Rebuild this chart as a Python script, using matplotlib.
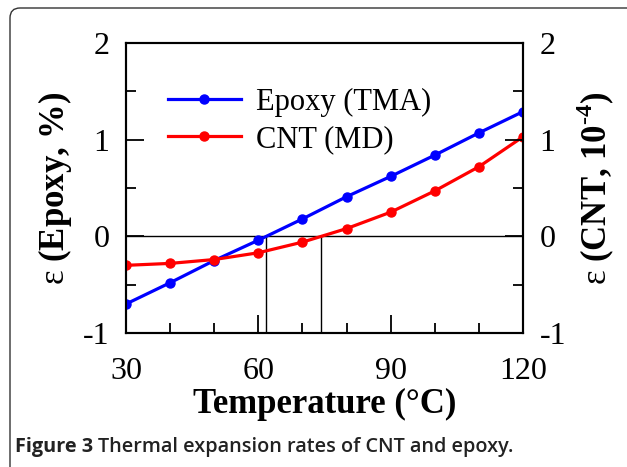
import matplotlib
matplotlib.use("Agg")
import matplotlib.pyplot as plt
from matplotlib.patches import FancyBboxPatch
from matplotlib.transforms import IdentityTransform
from matplotlib.ticker import MultipleLocator

# data
temps = [30, 40, 50, 60, 70, 80, 90, 100, 110, 120]
epoxy = [-0.70, -0.48, -0.25, -0.04, 0.18, 0.41, 0.62, 0.84, 1.07, 1.29]
cnt = [-0.30, -0.28, -0.24, -0.17, -0.06, 0.08, 0.25, 0.47, 0.72, 1.03]
zero_cross = [61.7, 74.2]   # where the curves cross zero

plt.rcParams['font.family'] = ['Liberation Serif', 'DejaVu Serif']
plt.rcParams['mathtext.fontset'] = 'custom'
plt.rcParams['mathtext.rm'] = 'Liberation Serif'
plt.rcParams['mathtext.bf'] = 'Liberation Serif:bold'
plt.rcParams['axes.unicode_minus'] = False

W, H = 627, 467
fig = plt.figure(figsize=(W / 100, H / 100), dpi=100)
ax = fig.add_axes([126 / W, 1 - 333 / H, 397 / W, 290 / H])

ax.plot(temps, epoxy, color='#0000ff', lw=2.3, marker='o', ms=6.5, label='Epoxy (TMA)', zorder=3)
ax.plot(temps, cnt, color='#ff0000', lw=2.3, marker='o', ms=6.5, label='CNT (MD)', zorder=3)

ax.axhline(0, color='black', lw=1.0, zorder=2)
for t in zero_cross:
    ax.plot([t, t], [-1, 0], color='black', lw=1.0, zorder=2)

ax.set_xlim(30, 120)
ax.set_ylim(-1, 2)
ax.xaxis.set_major_locator(MultipleLocator(30))
ax.xaxis.set_minor_locator(MultipleLocator(10))
ax.yaxis.set_major_locator(MultipleLocator(1))
ax.yaxis.set_minor_locator(MultipleLocator(0.5))

for s in ax.spines.values():
    s.set_linewidth(1.5)

ax.tick_params(which='both', direction='in', top=False, right=False, width=1.3)
ax.tick_params(which='major', length=13, labelsize=23, pad=12)
ax.tick_params(which='minor', length=7)
ax.tick_params(axis='x', which='major', pad=17)

ax2 = ax.twinx()
ax2.set_ylim(-1, 2)
ax2.yaxis.set_major_locator(MultipleLocator(1))
ax2.yaxis.set_minor_locator(MultipleLocator(0.5))
ax2.tick_params(which='both', direction='in', width=1.3)
ax2.tick_params(which='major', length=13, labelsize=23, pad=12)
ax2.tick_params(which='minor', length=7)
for s in ax2.spines.values():
    s.set_linewidth(1.5)

ax.set_xlabel('Temperature (°C)', fontsize=25, fontweight='bold', labelpad=2)
ax.set_ylabel(r'$\mathrm{ε}$ (Epoxy, %)', fontsize=25, fontweight='bold', labelpad=6)
ax2.set_ylabel(r'$\mathrm{ε}$ (CNT, 10$^{\mathbf{\text{-}4}}$)', fontsize=25, fontweight='bold',
               rotation=90, labelpad=6)

leg = ax.legend(loc='upper left', bbox_to_anchor=(0.105, 0.845), frameon=False, fontsize=22,
                handlelength=2.4, handletextpad=0.5, labelspacing=0.26, borderpad=0,
                borderaxespad=0)

# rounded frame around the figure
frame = FancyBboxPatch((10, -10), W + 10, H - 8 + 10,
                       boxstyle='round,pad=0,rounding_size=10',
                       transform=IdentityTransform(), fill=False,
                       edgecolor='#333333', lw=1.0, clip_on=False)
fig.patches.append(frame)

# caption: bold "Figure 3" then the rest
cap1 = fig.text(15 / W, 1 - 447 / H, 'Figure 3', fontsize=14.3, fontweight='bold',
                family='Open Sans', va='center', ha='left', color='#222222')
fig.canvas.draw()
bb = cap1.get_window_extent()
fig.text((bb.x1 + 5) / W, 1 - 447 / H, 'Thermal expansion rates of CNT and epoxy.',
         fontsize=14.3, family='Open Sans', va='center', ha='left', color='#222222',
         fontweight='semibold')

fig.savefig('out.png', dpi=100)
